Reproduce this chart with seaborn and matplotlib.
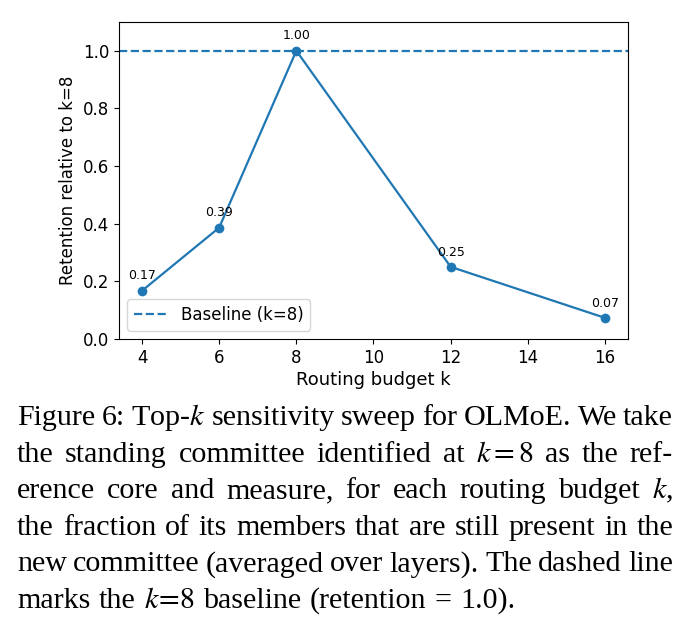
import numpy as np
import pandas as pd
import matplotlib
matplotlib.use("Agg")
import matplotlib.pyplot as plt
import seaborn as sns

# Data
budgets = [4, 6, 8, 12, 16]
retention = [0.167, 0.386, 1.00, 0.25, 0.073]
baseline = 1.0

caption_lines = [
    "Figure 6: Top-$k$ sensitivity sweep for OLMoE. We take",
    "the standing committee identified at $k=8$ as the ref-",
    "erence core and measure, for each routing budget $k$,",
    "the fraction of its members that are still present in the",
    "new committee (averaged over layers). The dashed line",
    "marks the $k\\!=\\!8$ baseline (retention = 1.0).",
]

plt.rcParams["mathtext.fontset"] = "stix"

df = pd.DataFrame({"k": budgets, "retention": retention})

fig = plt.figure(figsize=(6.91, 6.37), dpi=100)
ax = fig.add_axes([0.172, 0.468, 0.737, 0.4976])

sns.lineplot(data=df, x="k", y="retention", marker="o", markersize=7,
             markeredgewidth=0, linewidth=1.6, color="#1f77b4", ax=ax)
ax.axhline(baseline, linestyle="--", linewidth=1.6, color="#1f77b4",
           label="Baseline (k=8)")

for x, y in zip(budgets, retention):
    ax.annotate(f"{y:.2f}", (x, y), xytext=(0, 6), textcoords="offset points",
                ha="center", va="bottom", fontsize=9)

ax.set_ylim(0, 1.1)
ax.set_xticks([4, 6, 8, 10, 12, 14, 16])
ax.set_xlabel("Routing budget k", fontsize=13, labelpad=3)
ax.set_ylabel("Retention relative to k=8", fontsize=12)
ax.tick_params(labelsize=12)
ax.legend(loc="lower left", fontsize=12)

# Caption, justified word by word
renderer = fig.canvas.get_renderer()
W, H = 691, 637
x_left, x_right = 17, 673
y_first, step = 425, 36.6
fsize = 21.6

for i, line in enumerate(caption_lines):
    words = line.split(" ")
    y = 1 - (y_first + i * step) / H
    texts = [fig.text(0, y, w, fontsize=fsize, family="Liberation Serif",
                      ha="left", va="baseline") for w in words]
    widths = [t.get_window_extent(renderer).width for t in texts]
    if i < len(caption_lines) - 1:
        gap = (x_right - x_left - sum(widths)) / (len(words) - 1)
    else:
        gap = 8.5
    pos = x_left
    for t, wd in zip(texts, widths):
        t.set_x(pos / W)
        pos += wd + gap

fig.savefig("out.png", dpi=100)
